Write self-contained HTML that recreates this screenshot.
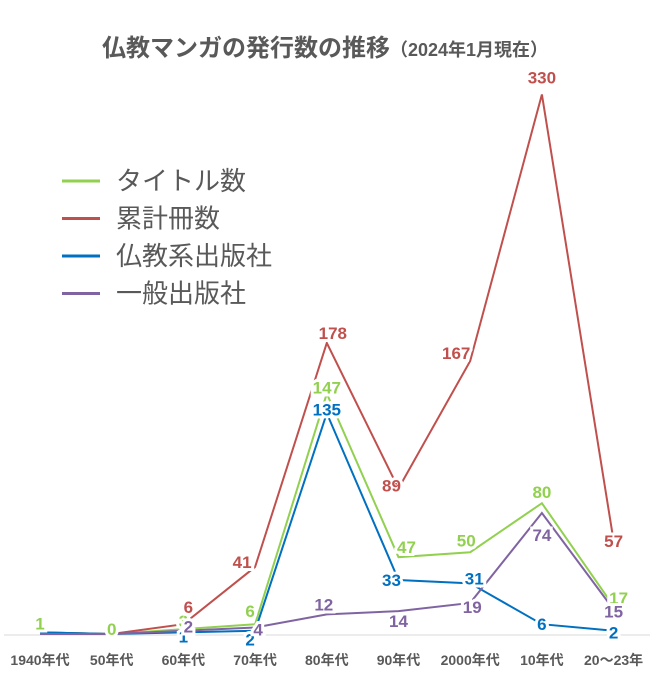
<!DOCTYPE html>
<html><head><meta charset="utf-8"><style>
body{margin:0;background:#fff;}
svg{display:block;font-family:"Liberation Sans","Noto Sans CJK JP",sans-serif;}
</style></head><body>
<svg id="c" width="655" height="677" viewBox="0 0 655 677">
<rect width="655" height="677" fill="#fff"/>
<text x="325" y="56" text-anchor="middle" fill="#595959" font-weight="bold"><tspan font-size="24">仏教マンガの発行数の推移</tspan><tspan font-size="18">（2024年1月現在）</tspan></text>
<line x1="4" y1="635" x2="650" y2="635" stroke="#d9d9d9" stroke-width="1"/>
<g id="xlabels"></g>
<g id="lines"></g>
<g id="labels"></g>
<g id="legend"></g>
</svg>
<script>
const categories=["1940年代","50年代","60年代","70年代","80年代","90年代","2000年代","10年代","20〜23年"];
const titles=[1,0,3,6,147,47,50,80,17];
const volumes=[1,0,6,41,178,89,167,330,57];
const buddhistPub=[1,0,1,2,135,33,31,6,2];
const generalPub=[0,0,2,4,12,14,19,74,15];
const seriesNames=["タイトル数","累計冊数","仏教系出版社","一般出版社"];
const seriesColors=["#92d050","#c0504d","#0070c0","#8064a2"];
// label placement (offsets from point), style only
const labelDX=[[0,0,0,-5,0,8,-4,0,5],[0,0,5,-13,6,-7,-14,0,0],[0,0,0,-5,0,-7,4,0,0],[0,0,5,3,-3,0,2,0,0]];
const labelDY=[[-9,-5,-8,-13,-6,-10,-12,-11,-8],[0,0,-17,-5,-10,-3,-8,-17,0],[0,0,4,9,-4,0,-5,0,2],[0,0,-4,2,-10,10,4,22,2]];
const labelShow=[[1,1,1,1,1,1,1,1,1],[0,0,1,1,1,1,1,1,1],[0,0,1,1,1,1,1,1,1],[0,0,1,1,1,1,1,1,1]];
const NS="http://www.w3.org/2000/svg";
const x=i=>40+i*71.7;
const y=v=>634-v*1.635;
const xl=document.getElementById('xlabels');
categories.forEach((c,i)=>{
  const t=document.createElementNS(NS,'text');
  
  
  t.setAttribute('x',x(i));t.setAttribute('y',665);
  t.setAttribute('text-anchor','middle');t.setAttribute('font-size','14');
  t.setAttribute('font-weight','bold');t.setAttribute('fill','#595959');
  t.textContent=c;xl.appendChild(t);
});
const data=[titles,volumes,buddhistPub,generalPub];
const keys=['titles','volumes','buddhist-publisher','general-publisher'];
const lg=document.getElementById('lines'),lb=document.getElementById('labels');
data.forEach((d,s)=>{
  const p=document.createElementNS(NS,'polyline');
  
  
  p.setAttribute('points',d.map((v,i)=>x(i)+','+y(v)).join(' '));
  p.setAttribute('fill','none');p.setAttribute('stroke',seriesColors[s]);p.setAttribute('stroke-width','2');
  lg.appendChild(p);
});
data.forEach((d,s)=>{
  d.forEach((v,i)=>{
    if(!labelShow[s][i]) return;
    const t=document.createElementNS(NS,'text');
    
    
    t.setAttribute('x',x(i)+labelDX[s][i]);t.setAttribute('y',y(v)+labelDY[s][i]+6);
    t.setAttribute('text-anchor','middle');t.setAttribute('font-size','17');
    t.setAttribute('font-weight','bold');t.setAttribute('fill',seriesColors[s]);
    t.setAttribute('stroke','#fff');t.setAttribute('stroke-width','6');t.setAttribute('paint-order','stroke');
    t.textContent=v;lb.appendChild(t);
  });
});
const lgd=document.getElementById('legend');
seriesNames.forEach((n,s)=>{
  const yy=181+s*37.5;
  const l=document.createElementNS(NS,'line');
  
  
  l.setAttribute('x1',62);l.setAttribute('x2',100);l.setAttribute('y1',yy);l.setAttribute('y2',yy);
  l.setAttribute('stroke',seriesColors[s]);l.setAttribute('stroke-width','3');
  lgd.appendChild(l);
  const t=document.createElementNS(NS,'text');
  
  
  t.setAttribute('x',116);t.setAttribute('y',yy+9);
  t.setAttribute('font-size','26');t.setAttribute('fill','#595959');
  t.textContent=n;lgd.appendChild(t);
});
</script>
</body></html>
